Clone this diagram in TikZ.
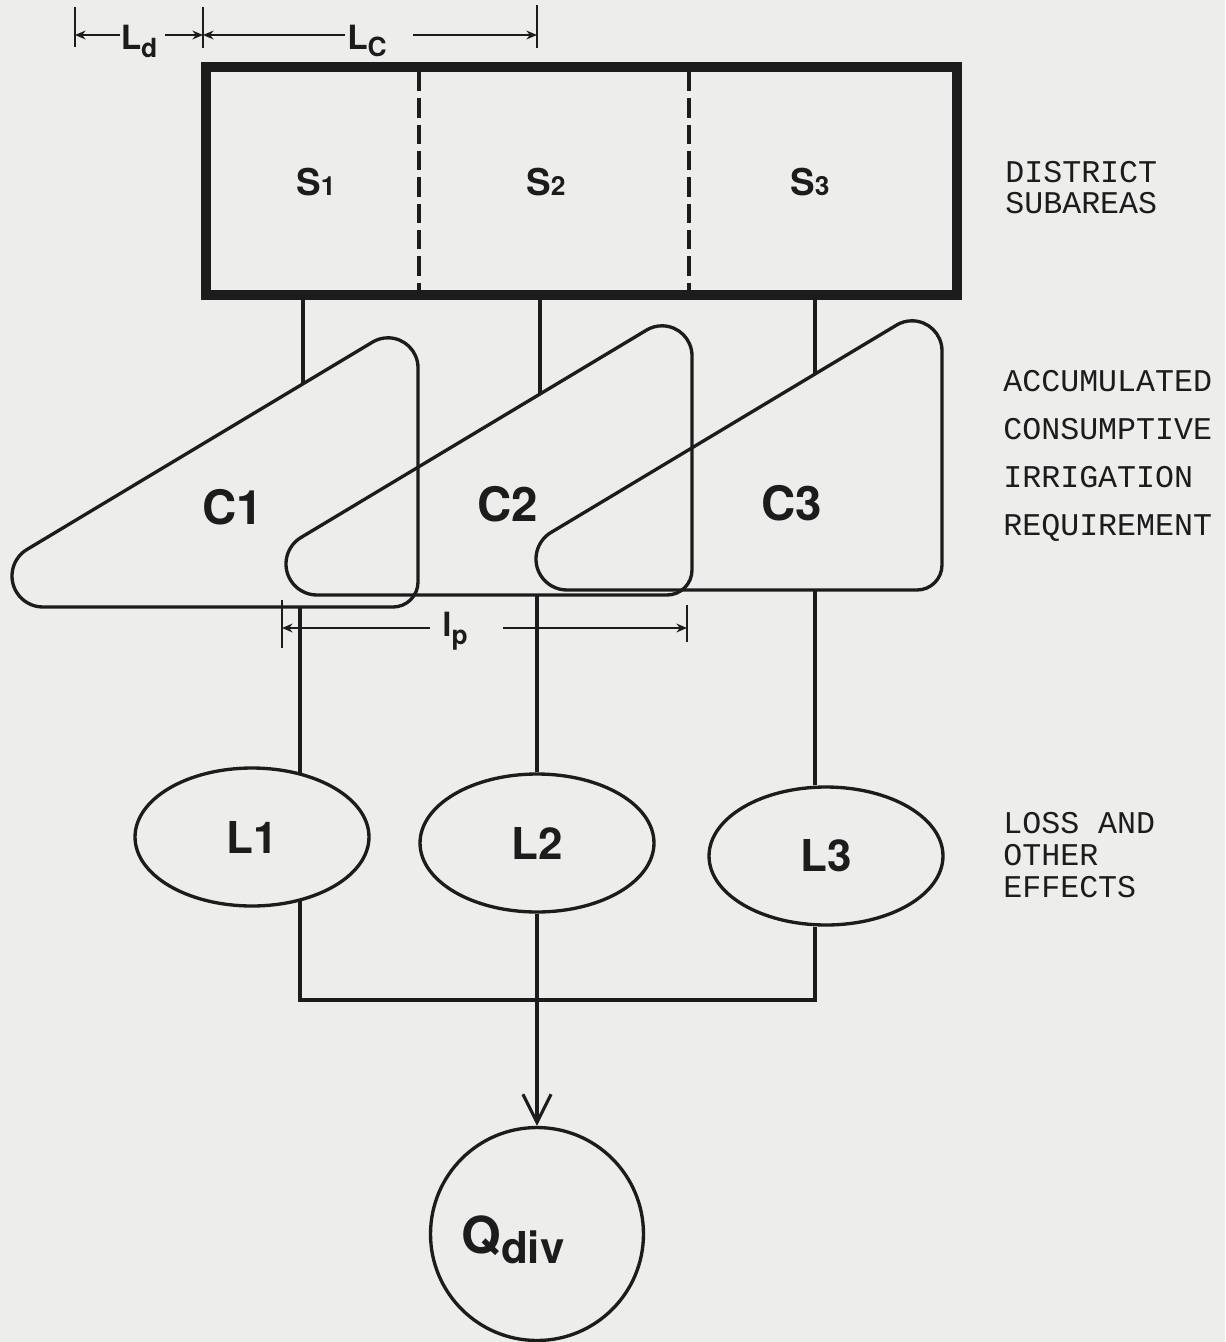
\documentclass[tikz,border=0pt]{standalone}
\usepackage{fontspec}
\setsansfont{TeX Gyre Heros}
\newfontfamily\typewriterfont{Liberation Mono}
\usepackage{tikz}
\usetikzlibrary{arrows.meta,positioning,shapes.geometric}
\definecolor{sheetgray}{HTML}{EDEEEC}
\definecolor{inkblack}{HTML}{1C1C1C}
\tikzset{districtbox/.style={rectangle,draw=inkblack,line width=6pt,
 minimum width=15.02cm,minimum height=4.56cm,inner sep=0pt},
 subline/.style={draw=inkblack,line width=1.9pt,dash pattern=on 11pt off 4pt},
 subarea/.style={text=inkblack,font=\sffamily\bfseries\fontsize{21}{21}\selectfont,inner sep=0pt},
 reqshape/.style={draw=inkblack,line width=1.9pt},
 reqlabel/.style={text=inkblack,font=\sffamily\bfseries\fontsize{27}{27}\selectfont,inner sep=0pt},
 lossnode/.style={ellipse,draw=inkblack,line width=1.9pt,minimum width=4.68cm,
 minimum height=2.76cm,inner sep=0pt,text=inkblack,font=\sffamily\bfseries\fontsize{25}{25}\selectfont},
 divnode/.style={circle,draw=inkblack,line width=1.9pt,minimum size=4.26cm,inner sep=0pt},
 divlabel/.style={text=inkblack,font=\sffamily\bfseries\fontsize{29}{29}\selectfont,inner sep=0pt},
 flow/.style={draw=inkblack,line width=1.8pt},
 dimline/.style={draw=inkblack,line width=1.2pt},
 dimtip/.style={dimline,-{Stealth[length=6pt,width=5pt]}},
 dimlabel/.style={text=inkblack,font=\sffamily\bfseries,inner sep=0pt},
 sidenote/.style={text=inkblack,font=\typewriterfont\fontsize{18}{#1}\selectfont,
 align=left,anchor=west,inner sep=0pt}}
\newcommand{\dimtag}[2]{{\fontsize{19}{19}\selectfont #1}\raisebox{-4.5pt}{\fontsize{15}{15}\selectfont #2}}
\newcommand{\reqtriangle}[2]{% corner bottom right at (#1,#2)
 \begin{scope}[shift={(#1,#2)}]
  \draw[reqshape] (-375,0) -- (-25,0) arc[start angle=90,end angle=0,radius=25]
   -- (0,-239.2) arc[start angle=0,end angle=-120.96,radius=30]
   -- (-390.95,-57.58) arc[start angle=-120.96,end angle=-270,radius=31] -- cycle;
 \end{scope}}

\begin{document}
\begin{tikzpicture}[x=0.02cm,y=-0.02cm]
 \fill[sheetgray] (0,0) rectangle (1225,1342);
 \useasboundingbox (0,0) rectangle (1225,1342);
 % lengths on top
 \draw[dimline] (75,7) -- (75,47) (203,7) -- (203,48) (537,5) -- (537,48);
 \node[dimlabel] (ld) at (139,41.5) {\dimtag{L}{d}};
 \node[dimlabel] (lc) at (367,41) {\dimtag{L}{C}};
 \coordinate (ldA) at (75,35); \coordinate (ldB) at (203,35); \coordinate (lcB) at (537,35);
 \coordinate (ldl) at (120,35); \coordinate (ldr) at (165,35);
 \coordinate (lcl) at (345,35); \coordinate (lcr) at (413,35);
 \draw[dimtip] (ldl) -- (ldA);
 \draw[dimtip] (ldr) -- (ldB);
 \draw[dimtip] (lcl) -- (ldB);
 \draw[dimtip] (lcr) -- (lcB);
 % district subareas
 \node[districtbox] (district) at (581.5,181) {};
 \draw[subline] (419,72) -- (419,291) (689,72) -- (689,291);
 \node[subarea] (s1) at (316,182) {S{\fontsize{15}{15}\selectfont 1}};
 \node[subarea] (s2) at (546,182) {S{\fontsize{15}{15}\selectfont 2}};
 \node[subarea] (s3) at (810,182) {S{\fontsize{15}{15}\selectfont 3}};
 % consumptive requirement
 \reqtriangle{418}{607}
 \reqtriangle{692}{595}
 \reqtriangle{942}{590}
 \node[reqlabel] (c1) at (233,507) {C1};
 \node[reqlabel] (c2) at (508,504) {C2};
 \node[reqlabel] (c3) at (792,503) {C3};
 \coordinate (s1out) at (303,295); \coordinate (c1in) at (303,383.8);
 \coordinate (s2out) at (540,295); \coordinate (c2in) at (540,394);
 \coordinate (s3out) at (815,295); \coordinate (c3in) at (815,374);
 \draw[flow] (s1out) -- (c1in);
 \draw[flow] (s2out) -- (c2in);
 \draw[flow] (s3out) -- (c3in);
 % lag length
 \draw[dimline] (282,600) -- (282,648) (687,605) -- (687,642);
 \node[dimlabel] (ip) at (455,631) {\dimtag{l}{p}};
 \coordinate (ipA) at (282,628); \coordinate (ipB) at (687,628);
 \coordinate (ipl) at (430,628); \coordinate (ipr) at (503,628);
 \draw[dimtip] (ipl) -- (ipA);
 \draw[dimtip] (ipr) -- (ipB);
 % losses
 \node[lossnode] (l1) at (252,837) {L1};
 \node[lossnode] (l2) at (537,843) {L2};
 \node[lossnode] (l3) at (826,856) {L3};
 \coordinate (c1out) at (300,607); \coordinate (c2out) at (537,595); \coordinate (c3out) at (815,590);
 \coordinate (l1top) at (300,773.5); \coordinate (l1bot) at (300,900.5);
 \draw[flow] (c1out) -- (l1top);
 \draw[flow] (c2out) -- (l2.north);
 \draw[flow] (c3out) -- (c3out |- l3.north);
 \coordinate (join1) at (300,1000); \coordinate (join3) at (815,1000);
 \draw[flow] (l1bot) -- (join1) -- (join3) -- (join3 |- l3.south);
 % diversion
 \node[divnode] (qdiv) at (537,1234) {};
 \node[divlabel] (qtext) at (513,1240) {Q\raisebox{-6pt}{\fontsize{25}{25}\selectfont div}};
 \draw[flow,-{Straight Barb[length=16pt,width=16pt]}] (l2.south) -- (qdiv.north);
 % notes on the right
 \node[sidenote=17.6pt] (districtnote) at (1005,188) {DISTRICT\\SUBAREAS};
 \node[sidenote=27.2pt] (reqnote) at (1003,456) {ACCUMULATED\\CONSUMPTIVE\\IRRIGATION\\REQUIREMENT};
 \node[sidenote=18.4pt] (lossnote) at (1003,855) {LOSS AND\\OTHER\\EFFECTS};
\end{tikzpicture}
\end{document}
